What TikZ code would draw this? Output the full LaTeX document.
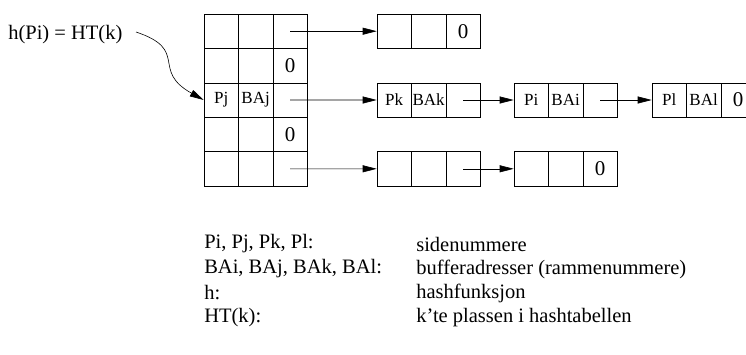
\documentclass[tikz,border=0pt]{standalone}
\usepackage{fontspec}
\setmainfont{Liberation Serif}
\usetikzlibrary{arrows.meta}

\begin{document}
\begin{tikzpicture}[x=1pt, y=-1pt, line width=0.6pt, >={Triangle[length=14pt,width=7pt]}, every node/.style={font=\fontsize{20.5}{24}\selectfont}, cell/.style={draw, rectangle, minimum width=34.4pt, minimum height=34.4pt, inner sep=0pt}, lbl/.style={font=\fontsize{17}{20}\selectfont, inner sep=0pt}, nul/.style={font=\fontsize{21}{24}\selectfont, inner sep=0pt}, txt/.style={anchor=west, inner sep=0pt}]
	\useasboundingbox (0,0) rectangle (746,354);
	% hash table
	\foreach \r in {1,...,5} {\foreach \c in {1,2,3} {\node[cell] (t\r\c) at ({186.8+34.4*\c},{-3.2+34.4*\r}) {};}}
	\node[lbl] (pj) at (t31) {Pj}; \node[lbl] (baj) at (t32) {BAj};
	\node[nul] (n2) at (t23) {0}; \node[nul] (n4) at (t43) {0};
	% overflow lists
	\foreach \n/\x/\y in {a/377/31.2, b/377/100, c/514/100, d/652/100, e/377/168.8, f/514/168.8} {\foreach \c in {1,2,3} {\node[cell] (\n\c) at ({\x+34.4*\c-17.2},\y) {};}}
	\node[nul] (na) at (a3) {0};
	\node[lbl] (pk) at (b1) {Pk}; \node[lbl] (bak) at (b2) {BAk};
	\node[lbl] (pi) at (c1) {Pi}; \node[lbl] (bai) at (c2) {BAi};
	\node[lbl] (pl) at (d1) {Pl}; \node[lbl] (bal) at (d2) {BAl}; \node[nul] (nd) at (d3) {0};
	\node[nul] (nf) at (f3) {0};
	\draw[->] (t13.center) -- (a1.west);
	\draw[->] (t33.center) -- (b1.west);
	\draw[->] (t53.center) -- (e1.west);
	\draw[->] (b3.center) -- (c1.west);
	\draw[->] (c3.center) -- (d1.west);
	\draw[->] (e3.center) -- (f1.west);
	% hash function
	\node[txt] (hk) at (8,35) {h(Pi) = HT(k)};
	\coordinate (hs) at (136,32);
	\draw[->] (hs) .. controls (190,50) and (150,70) .. (t31.west);
	% legend
	\node[txt] (key1) at (204,244) {Pi, Pj, Pk, Pl:};
	\node[txt] (key2) at (204,269) {BAi, BAj, BAk, BAl:};
	\node[txt] (key3) at (204,293) {h:};
	\node[txt] (key4) at (204,318) {HT(k):};
	\node[txt] (desc1) at (416,244) {sidenummere};
	\node[txt] (desc2) at (416,269) {bufferadresser (rammenummere)};
	\node[txt] (desc3) at (416,293) {hashfunksjon};
	\node[txt] (desc4) at (416,318) {k’te plassen i hashtabellen};
\end{tikzpicture}
\end{document}
